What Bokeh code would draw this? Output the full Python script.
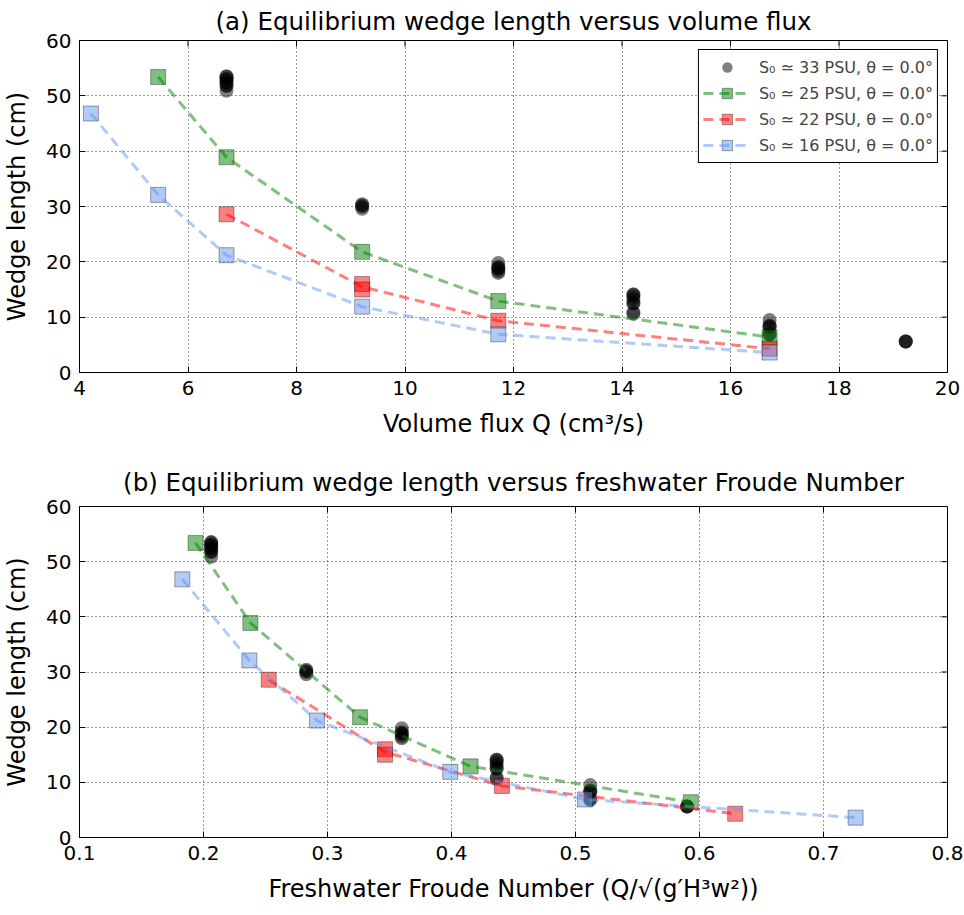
import math
from bokeh.plotting import figure
from bokeh.layouts import column
from bokeh.models import Legend, LegendItem, Range1d, FixedTicker
from bokeh.embed import file_html
from bokeh.resources import INLINE

FONT = "DejaVu Sans"

# ---------------- data ----------------
# 33 PSU (black circles, no line) : many overlapping measurements
s33_q = [6.71, 6.71, 6.71, 6.71, 6.71, 6.71, 6.71, 6.71, 6.71,
         9.21, 9.21, 9.21, 9.21,
         11.72, 11.72, 11.72, 11.72, 11.72, 11.72,
         14.21, 14.21, 14.21, 14.21, 14.21, 14.21, 14.21, 14.21,
         16.72, 16.72, 16.72, 16.72, 16.72, 16.72,
         19.23, 19.23, 19.23]
s33_fr = [0.2062, 0.2062, 0.2062, 0.2062, 0.2062, 0.2062, 0.2062, 0.2062, 0.2062,
          0.2829, 0.2829, 0.2829, 0.2829,
          0.3599, 0.3599, 0.3599, 0.3599, 0.3599, 0.3599,
          0.4364, 0.4364, 0.4364, 0.4364, 0.4364, 0.4364, 0.4364, 0.4364,
          0.5119, 0.5119, 0.5119, 0.5119, 0.5119, 0.5119,
          0.590, 0.590, 0.590]
s33_L = [53.5, 53.5, 53.0, 53.0, 52.4, 52.4, 51.8, 51.8, 50.9,
         30.4, 30.2, 30.0, 29.6,
         19.8, 19.1, 18.8, 18.8, 18.3, 18.0,
         14.1, 14.1, 13.7, 13.2, 12.5, 12.5, 10.9, 10.6,
         9.5, 8.5, 8.3, 8.2, 7.0, 6.8,
         5.6, 5.6, 5.6]

# 25 PSU (green)
s25_q = [5.45, 6.71, 9.21, 11.72, 16.72]
s25_fr = [0.1936, 0.2378, 0.3263, 0.4154, 0.593]
s25_L = [53.4, 38.9, 21.8, 12.9, 6.4]

# 22 PSU (red) points and mean line
s22_q = [6.71, 9.21, 9.21, 11.72, 16.72]
s22_fr = [0.2526, 0.3464, 0.3464, 0.4407, 0.6288]
s22_L = [28.6, 16.0, 15.0, 9.35, 4.3]
s22_line_q = [6.71, 9.21, 11.72, 16.72]
s22_line_fr = [0.2526, 0.3464, 0.4407, 0.6288]
s22_line_L = [28.6, 15.5, 9.35, 4.3]

# 16 PSU (blue)
s16_q = [4.21, 5.45, 6.71, 9.21, 11.72, 16.72]
s16_fr = [0.1829, 0.2370, 0.2915, 0.3990, 0.5077, 0.7259]
s16_L = [46.8, 32.1, 21.2, 11.9, 6.9, 3.6]

labels = ["S\u2080 \u2243 33 PSU, \u03b8 = 0.0\u00b0",
          "S\u2080 \u2243 25 PSU, \u03b8 = 0.0\u00b0",
          "S\u2080 \u2243 22 PSU, \u03b8 = 0.0\u00b0",
          "S\u2080 \u2243 16 PSU, \u03b8 = 0.0\u00b0"]

xticks_top = [4, 6, 8, 10, 12, 14, 16, 18, 20]
xticks_bot = [0.1, 0.2, 0.3, 0.4, 0.5, 0.6, 0.7, 0.8]
yticks = [0, 10, 20, 30, 40, 50, 60]
x_range_top = (4, 20)
x_range_bot = (0.1, 0.8)
y_range = (0, 60)

GREEN, RED, BLUE = "#008000", "#ff0000", "#6495ed"


def style_axis(ax, ticks):
    ax.ticker = FixedTicker(ticks=ticks)
    ax.major_tick_in = 6
    ax.major_tick_out = 0
    ax.minor_tick_line_color = None
    ax.axis_line_color = "black"
    ax.major_tick_line_color = "black"
    ax.major_label_text_font = FONT
    ax.major_label_text_color = "black"
    ax.major_label_text_font_size = "20px"
    ax.major_label_standoff = 8
    ax.axis_label_text_font = FONT
    ax.axis_label_text_font_style = "normal"
    ax.axis_label_text_color = "black"
    ax.axis_label_text_font_size = "24px"
    ax.axis_label_standoff = 12


def make_fig(title, height, top, bottom, xr, xticks, xlabel, title_standoff):
    p = figure(width=964, height=height, output_backend="svg", toolbar_location=None,
               x_range=Range1d(*xr), y_range=Range1d(*y_range),
               min_border_left=77, min_border_right=17,
               min_border_top=top, min_border_bottom=bottom)
    p.title.text = title
    p.title.align = "center"
    p.title.text_font = FONT
    p.title.text_font_size = "24.5px"
    p.title.text_font_style = "normal"
    p.title.text_color = "black"
    p.title.standoff = title_standoff
    p.outline_line_color = "black"
    p.outline_line_width = 1
    p.outline_line_alpha = 1
    p.background_fill_color = "white"
    p.border_fill_color = "white"
    style_axis(p.xaxis[0], xticks)
    style_axis(p.yaxis[0], yticks)
    p.xaxis[0].axis_label = xlabel
    p.yaxis[0].axis_label = "Wedge length (cm)"
    # inward ticks on the top and right frame edges
    p.ray(x=xticks, y=[y_range[1]] * len(xticks), length=6, angle=-math.pi / 2,
          length_units="screen", line_color="black", line_width=1)
    p.ray(x=[xr[1]] * len(yticks), y=yticks, length=6, angle=math.pi,
          length_units="screen", line_color="black", line_width=1)
    p.xgrid.ticker = FixedTicker(ticks=xticks)
    p.ygrid.ticker = FixedTicker(ticks=yticks)
    p.grid.grid_line_color = "black"
    p.grid.grid_line_dash = "1 3"
    p.grid.grid_line_width = 1
    p.grid.grid_line_alpha = 0.8
    return p


def add_series(p, xs33, xs25, xs22, xl22, xs16):
    r33 = p.scatter(xs33, s33_L, marker="circle", size=14, fill_color="black",
                    fill_alpha=0.5, line_color=None)
    s25 = p.scatter(xs25, s25_L, marker="square", size=15, fill_color=GREEN, fill_alpha=0.5,
                    line_color="black", line_alpha=0.35)
    l25 = p.line(xs25, s25_L, line_color=GREEN, line_alpha=0.5, line_width=3, line_dash="10 6")
    s22 = p.scatter(xs22, s22_L, marker="square", size=15, fill_color=RED, fill_alpha=0.5,
                    line_color="black", line_alpha=0.35)
    l22 = p.line(xl22, s22_line_L, line_color=RED, line_alpha=0.5, line_width=3, line_dash="10 6")
    s16 = p.scatter(xs16, s16_L, marker="square", size=15, fill_color=BLUE, fill_alpha=0.5,
                    line_color="black", line_alpha=0.35)
    l16 = p.line(xs16, s16_L, line_color=BLUE, line_alpha=0.5, line_width=3, line_dash="10 6")
    return [[r33], [s25, l25], [s22, l22], [s16, l16]]


p1 = make_fig("(a) Equilibrium wedge length versus volume flux", 455, 39, 83,
              x_range_top, xticks_top, "Volume flux Q (cm\u00b3/s)", 9)
groups = add_series(p1, s33_q, s25_q, s22_q, s22_line_q, s16_q)
legend = Legend(items=[LegendItem(label=lab, renderers=g) for lab, g in zip(labels, groups)],
                location="top_right")
legend.border_line_color = "black"
legend.border_line_width = 1
legend.border_line_alpha = 1
legend.background_fill_alpha = 1
legend.label_text_font = FONT
legend.label_text_font_size = "16px"
legend.glyph_width = 48
legend.glyph_height = 26
legend.label_height = 20
legend.label_standoff = 8
legend.spacing = 0
legend.padding = 4
legend.margin = 9
p1.add_layout(legend)

p2 = make_fig("(b) Equilibrium wedge length versus freshwater Froude Number", 460, 50, 78,
              x_range_bot, xticks_bot,
              "Freshwater Froude Number (Q/\u221a(g\u2032H\u00b3w\u00b2))", 20)
add_series(p2, s33_fr, s25_fr, s22_fr, s22_line_fr, s16_fr)

layout = column(p1, p2, spacing=0)
open("out.html", "w").write(file_html(layout, INLINE))
